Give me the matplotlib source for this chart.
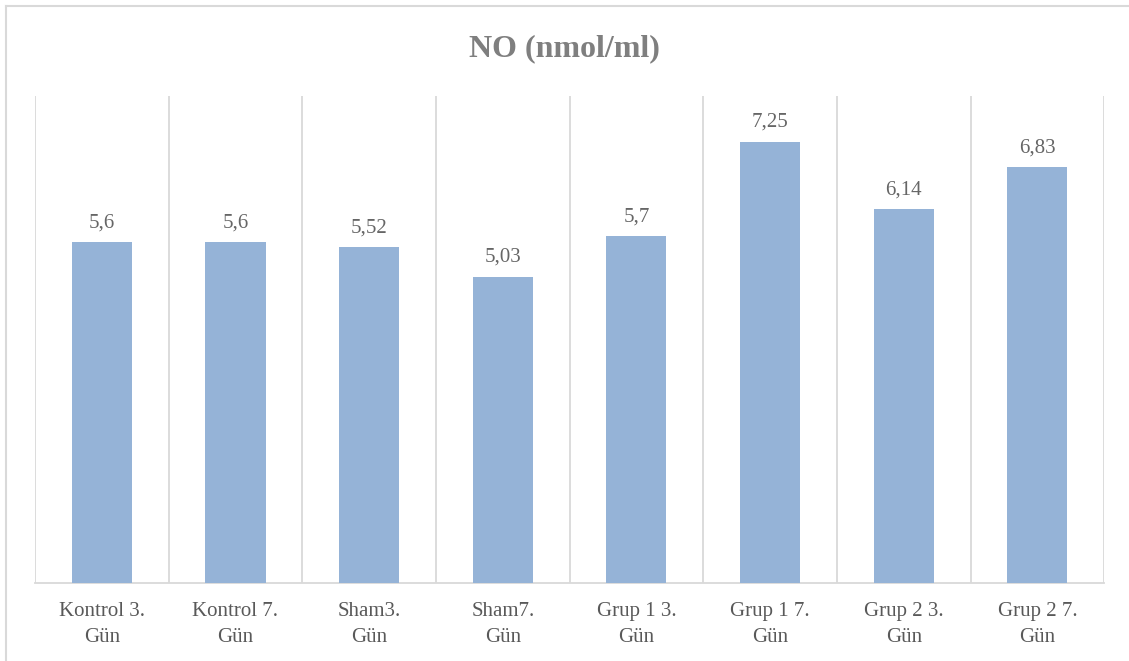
import matplotlib.pyplot as plt
from matplotlib.lines import Line2D

kategoriler = ['Kontrol 3.\nGün', 'Kontrol 7.\nGün', 'Sham3.\nGün', 'Sham7.\nGün',
               'Grup 1 3.\nGün', 'Grup 1 7.\nGün', 'Grup 2 3.\nGün', 'Grup 2 7.\nGün']
degerler = [5.6, 5.6, 5.52, 5.03, 5.7, 7.25, 6.14, 6.83]
etiketler = ['5,6', '5,6', '5,52', '5,03', '5,7', '7,25', '6,14', '6,83']

plt.rcParams['font.family'] = ['Liberation Serif', 'DejaVu Serif']

fig = plt.figure(figsize=(11.29, 6.61), dpi=100)
ax = fig.add_axes([0.031, 0.118, 0.947, 0.737])

x = range(len(kategoriler))
bars = ax.bar(x, degerler, width=0.45, color='#95B3D7', zorder=3)
for b, t in zip(bars, etiketler):
    ax.text(b.get_x() + b.get_width() / 2, b.get_height() + 0.16, t,
            ha='center', va='bottom', fontsize=15, color='#666666')

ax.set_xlim(-0.5, len(kategoriler) - 0.5)
ax.set_ylim(0, 8)
for i in range(len(kategoriler) + 1):
    ax.axvline(i - 0.5, color='#D9D9D9', lw=1.3, zorder=1)
ax.set_yticks([])
ax.set_xticks(list(x))
ax.set_xticklabels(kategoriler, fontsize=15, color='#595959', linespacing=1.45)
ax.tick_params(axis='x', length=0, pad=14)
for s in ['top', 'left', 'right']:
    ax.spines[s].set_visible(False)
ax.spines['bottom'].set_color('#D9D9D9')
ax.spines['bottom'].set_linewidth(1.3)

fig.text(0.5, 0.926, 'NO (nmol/ml)', ha='center', va='center', fontsize=23,
         fontweight='bold', color='#7F7F7F')

# cerceve: sadece ust ve sol kenar
fig.add_artist(Line2D([6 / 1129, 1], [1 - 6 / 661, 1 - 6 / 661],
                      transform=fig.transFigure, color='#D9D9D9', lw=1.5))
fig.add_artist(Line2D([6 / 1129, 6 / 1129], [0, 1 - 6 / 661],
                      transform=fig.transFigure, color='#D9D9D9', lw=1.5))

plt.savefig('out.png', dpi=100)
